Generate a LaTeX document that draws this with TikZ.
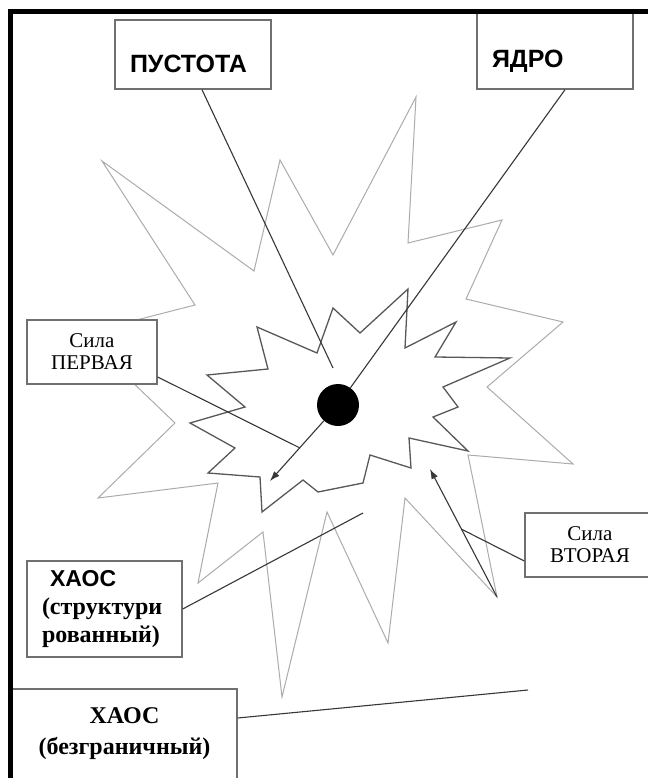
\documentclass[tikz,border=0pt]{standalone}
\usepackage{fontspec}
\setmainfont{Liberation Serif}
\setsansfont{Liberation Sans}
\usepackage{tikz}
\usetikzlibrary{arrows.meta,calc}
\definecolor{outerline}{RGB}{172, 172, 172}
\definecolor{innerline}{RGB}{88, 88, 88}
\definecolor{boxline}{RGB}{112, 112, 112}
\definecolor{wireline}{RGB}{55, 55, 55}

\begin{document}
\begin{tikzpicture}[x=1pt, y=-1pt,
    labelbox/.style={draw=boxline, line width=1.4pt, fill=white, inner sep=0pt},
    heading/.style={font=\sffamily\bfseries\fontsize{25}{30}\selectfont},
    wire/.style={draw=wireline, line width=1.1pt},
    pointer/.style={wire, -{Latex[length=10pt, width=7pt]}}]
    \path[use as bounding box, fill=white] (0,0) rectangle (647,778);
    \draw[outerline, line width=1pt] (102,161) -- (254,271) -- (280,160) -- (333,255)
        -- (416,97) -- (408,243) -- (502,220) -- (466,299) -- (563,322) -- (487,387)
        -- (573,464) -- (468,455) -- (497,597) -- (405,498) -- (388,643) -- (327,512)
        -- (282,697) -- (263,532) -- (198,583) -- (218,483) -- (98,498) -- (175,423)
        -- (82,334) -- (195,305) -- cycle;
    \draw[innerline, line width=1.3pt] (333,308) -- (360,333) -- (408,289) -- (405,348)
        -- (456,322) -- (435,357) -- (510,358) -- (443,387) -- (458,407) -- (433,417)
        -- (468,451) -- (409,438) -- (411,468) -- (370,455) -- (363,483) -- (318,492)
        -- (303,480) -- (262,512) -- (260,477) -- (208,473) -- (235,448) -- (190,423)
        -- (245,407) -- (207,375) -- (268,369) -- (257,327) -- (317,353) -- cycle;
    \node[labelbox, heading, minimum width=156pt, text width=126pt, align=left,
        text height=53pt, text depth=16pt] (void) at (193,54.5) {ПУСТОТА};
    \node[labelbox, heading, minimum width=156pt, text width=126pt, align=left,
        text height=56pt, text depth=21pt] (nucleus) at (555,50.5) {ЯДРО};
    \node[labelbox, minimum width=130pt, minimum height=64pt, align=center,
        font=\fontsize{21}{22}\selectfont] (first) at (92,352) {Сила\\ПЕРВАЯ};
    \node[labelbox, minimum width=130pt, minimum height=64pt, align=center,
        font=\fontsize{21}{22}\selectfont] (second) at (590,545) {Сила\\ВТОРАЯ};
    \node[labelbox, minimum width=155pt, minimum height=96pt, text width=125pt, align=left,
        font=\bfseries\fontsize{24}{28}\selectfont] (ordered) at (104.5,609)
        {\hspace*{8pt}{\sffamily\fontsize{23}{27}\selectfont ХАОС}\\(структури\\рованный)};
    \node[labelbox, minimum width=225pt, minimum height=90pt, align=center,
        font=\bfseries\fontsize{24}{31}\selectfont] (boundless) at (124.5,734)
        {ХАОС\\(безграничный)};
    \node[circle, fill=black, minimum size=42pt, inner sep=0pt] (core) at (338,405) {};
    \coordinate (voidend) at (333,368);
    \coordinate (coreend) at (270,481);
    \coordinate (firstend) at (300,448);
    \coordinate (vtail) at (497,597);
    \coordinate (vhead) at (430,469);
    \coordinate (vmid) at ($(vtail)!0.53!(vhead)$);
    \coordinate (orderedend) at (363,513);
    \coordinate (boundlessend) at (528,690);
    \draw[wire] ([xshift=9pt]void.south) -- (voidend);
    \draw[wire] ([xshift=10pt]nucleus.south) -- (core);
    \draw[pointer] (core) -- (coreend);
    \draw[wire] ([yshift=-25pt]first.east) -- (firstend);
    \draw[pointer] (vtail) -- (vhead);
    \draw[wire] ([yshift=-16pt]second.west) -- (vmid);
    \draw[wire] (ordered.east) -- (orderedend);
    \draw[wire] ([yshift=16pt]boundless.east) -- (boundlessend);
    \draw[line width=4.5pt] (10.5,790) -- (10.5,11.5) -- (660,11.5);
\end{tikzpicture}
\end{document}
